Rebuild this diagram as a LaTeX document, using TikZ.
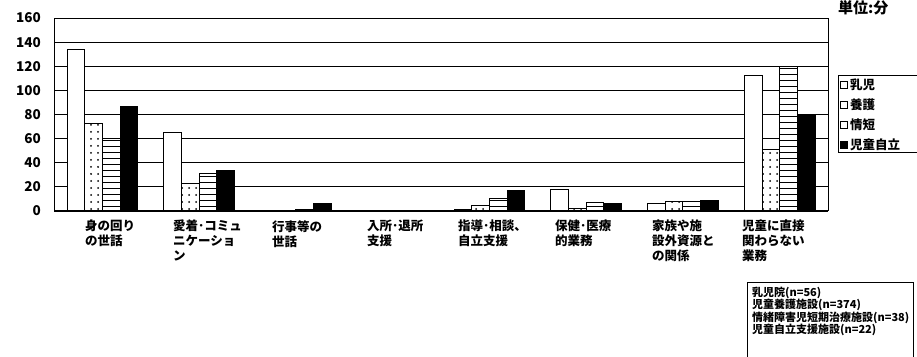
\documentclass[tikz,border=0pt]{standalone}
\usepackage{fontspec}
\newfontfamily\jp{Noto Sans CJK JP}
\usetikzlibrary{positioning, patterns.meta}

\tikzset{
  gridline/.style={line width=0.9pt},
  bar/.style={draw, line width=0.9pt},
  nyuji/.style={bar, fill=white},
  yogo/.style={bar, preaction={fill=white}, pattern={Dots[distance=7pt,radius=1pt]}},
  joutan/.style={bar, preaction={fill=white}, pattern={Lines[angle=0,distance=6pt,line width=0.8pt]}},
  jiritsu/.style={bar, fill=black},
  ticklabel/.style={anchor=east, inner sep=0pt, font=\jp\bfseries\fontsize{13.5}{13.5}\selectfont},
  catlabel/.style={anchor=north west, align=left, inner sep=0pt, font=\jp\bfseries\fontsize{12.5}{15}\selectfont},
  keybox/.style={draw, line width=0.9pt, fill=white, minimum size=7pt, inner sep=0pt}
}

\begin{document}
\begin{tikzpicture}[x=1pt, y=1pt]
\useasboundingbox (0,0) rectangle (917,356);

% --- plot area ---
\begin{scope}[shift={(54,145)}, y=1.206pt]
\foreach \v in {20,40,...,160}{
\draw[gridline] (0,\v)--(774,\v);
}
\foreach \v in {0,20,...,160}{
\node[ticklabel] (tick\v) at (-13,\v) {\v};
}
% bars: 乳児 / 養護 / 情短 / 児童自立
\foreach \a/\b/\c/\d [count=\i from 0] in {134/73/60/87, 65/23/31/34, 0/0.5/1/6, 0/0/0/0.3, 1/5/10/17, 18/2/7/6, 6/8/8/9, 112/51/120/80}{
\pgfmathsetmacro{\xa}{13+\i*96.75}
\draw[nyuji] (\xa,0) rectangle ++(17.7,\a);
\draw[yogo] (\xa+17.7,0) rectangle ++(17.7,\b);
\draw[joutan] (\xa+35.4,0) rectangle ++(17.7,\c);
\draw[jiritsu] (\xa+53.1,0) rectangle ++(17.7,\d);
}
\draw[line width=0.9pt] (0,0)--(0,160) (774,0)--(774,160);
\draw[line width=1.2pt] (0,0)--(774,0);
\end{scope}

% --- category labels ---
\foreach \x/\t [count=\i] in {85/{身の回り\\の世話}, 173/{愛着･コミュ\\ニケーショ\\ン}, 272/{行事等の\\世話}, 367/{入所･退所\\支援}, 458/{指導･相談、\\自立支援}, 555/{保健･医療\\的業務}, 652/{家族や施\\設外資源と\\の関係}, 742/{児童に直接\\関わらない\\業務}}{
\node[catlabel] (cat\i) at (\x,136) {\t};
}

% --- unit ---
\node[font=\jp\bfseries\fontsize{15}{15}\selectfont, anchor=north west, inner sep=0pt] (unit) at (838,356) {単位:分};

% --- key ---
\draw[line width=0.9pt] (838,204) rectangle (925,281);
\foreach \y/\t/\s [count=\i] in {271/乳児/white, 251/養護/white, 231/情短/white, 211/児童自立/black}{
\node[keybox, fill=\s] (key\i) at (844,\y) {};
\node[right=2pt of key\i, inner sep=0pt, font=\jp\bfseries\fontsize{12.5}{12.5}\selectfont] (keytext\i) {\t};
}

% --- sample sizes ---
\draw[line width=0.9pt] (747,-20) rectangle (913,74);
\node[anchor=north west, align=left, inner sep=0pt, font=\jp\bfseries\fontsize{11}{12.4}\selectfont] (nsize) at (752,69)
{乳児院(n=56)\\児童養護施設(n=374)\\情緒障害児短期治療施設(n=38)\\児童自立支援施設(n=22)};
\end{tikzpicture}
\end{document}
